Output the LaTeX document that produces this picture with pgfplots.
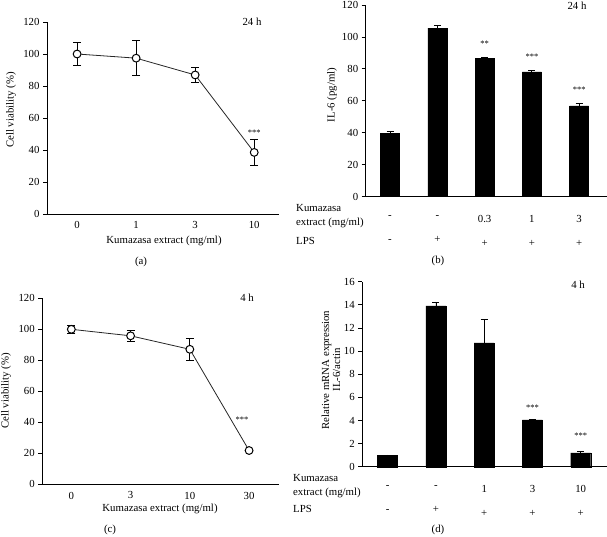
\documentclass[border=0pt]{standalone}
\usepackage{fontspec}
\setmainfont{Liberation Serif}
\usepackage{pgfplots}
\pgfplotsset{compat=1.18}

\pgfplotsset{
  panel/.style={
    scale only axis,
    axis x line*=bottom, axis y line*=left,
    axis line style={line width=0.8pt, black},
    tick align=outside,
    major tick length=4pt,
    ytick style={line width=0.8pt, black},
    xtick style={draw=none},
    /pgf/number format/assume math mode=true,
    ticklabel style={font=\fontsize{10.8}{13}\selectfont},
    clip=false,
  },
  linepanel/.style={
    panel,
    xtick={0,1,2,3},
    ymin=0, ymax=120, ytick={0,20,...,120},
    xticklabel style={yshift=0pt},
  },
  barpanel/.style={
    panel,
    xtick={0,1,2,3,4},
    xticklabel style={yshift=-11pt, align=center},
    ybar, bar width=19pt,
  },
  curve/.style={
    line width=0.8pt, color=black!85,
    mark=*, mark size=3.9pt,
    mark options={fill=white, draw=black, line width=1pt},
    error bars/.cd, y dir=both, y explicit,
    error bar style={line width=0.8pt, black},
    error mark options={rotate=90, line width=0.8pt, black, mark size=4pt},
  },
  bars/.style={
    fill=black, draw=black,
    error bars/.cd, y dir=plus, y explicit,
    error bar style={line width=0.8pt, black},
    error mark options={rotate=90, line width=0.8pt, black, mark size=3.5pt},
  },
}
\newcommand{\stars}{\fontsize{8.5}{9}\selectfont}

\begin{document}
\begin{tikzpicture}[font=\fontsize{10.8}{13}\selectfont]
\useasboundingbox (0,0) rectangle (607pt,536pt);

% ---------------- (a) ----------------
\begin{axis}[linepanel,
  at={(47pt,322pt)}, anchor=south west,
  width=232pt, height=192pt,
  xmin=-0.51, xmax=3.42,
  xticklabels={0,1,3,10},
]
\addplot[curve] coordinates {
  (0,100.0) +- (0,7.2)
  (1,97.4)  +- (0,11.0)
  (2,86.9)  +- (0,4.6)
  (3,38.5)  +- (0,8.0)
};
\node[font=\stars] at (axis cs:3,50.5) {***};
\end{axis}
\node at (252pt,514pt) {24 h};
\node at (164pt,295pt) {Kumazasa extract (mg/ml)};
\node[rotate=90] at (11pt,426pt) {Cell viability (\%)};
\node at (141pt,274pt) {(a)};

% ---------------- (b) ----------------
\begin{axis}[barpanel,
  at={(365.7pt,339.3pt)}, anchor=south west,
  width=241.2pt, height=191.7pt,
  xmin=-0.514, xmax=4.586,
  ymin=0, ymax=120, ytick={0,20,...,120},
  xticklabels={{-\\[11pt]-},{-\\[11pt]+},{0.3\\[11pt]+},{1\\[11pt]+},{3\\[11pt]+}},
]
\addplot[bars] coordinates {
  (0,39.6)  +- (0,1.0)
  (1,105.6) +- (0,1.6)
  (2,86.5)  +- (0,0.8)
  (3,78.1)  +- (0,1.2)
  (4,56.8)  +- (0,1.3)
};
\node[font=\stars] at (axis cs:2,96) {**};
\node[font=\stars] at (axis cs:3,87.5) {***};
\node[font=\stars] at (axis cs:4,66.7) {***};
\end{axis}
\node at (577pt,530pt) {24 h};
\node[rotate=90] at (332pt,441pt) {IL-6 (pg/ml)};
\node[anchor=west, align=left, inner xsep=0pt, font=\fontsize{10.8}{13.5}\selectfont] at (296pt,320pt) {Kumazasa\\extract (mg/ml)};
\node[anchor=west, inner xsep=0pt] at (296pt,295pt) {LPS};
\node at (438pt,275pt) {(b)};

% ---------------- (c) ----------------
\begin{axis}[linepanel,
  at={(42.3pt,51.7pt)}, anchor=south west,
  width=236.4pt, height=186pt,
  xmin=-0.49, xmax=3.5,
  xticklabels={0,3,10,30},
]
\addplot[curve] coordinates {
  (0,100.0) +- (0,2.6)
  (1,95.8)  +- (0,3.3)
  (2,87.1)  +- (0,7.2)
  (3,21.8)  +- (0,0.8)
};
\node[font=\stars] at (axis cs:2.88,41.5) {***};
\end{axis}
\node at (247pt,238pt) {4 h};
\node at (160pt,27pt) {Kumazasa extract (mg/ml)};
\node[rotate=90] at (6pt,145pt) {Cell viability (\%)};
\node at (110pt,6pt) {(c)};

% ---------------- (d) ----------------
\begin{axis}[barpanel,
  at={(362.3pt,69.3pt)}, anchor=south west,
  width=244.7pt, height=185pt,
  xmin=-0.526, xmax=4.545,
  ymin=0, ymax=16, ytick={0,2,...,16},
  bar width=20pt,
  xticklabels={{-\\[11pt]-},{-\\[11pt]+},{1\\[11pt]+},{3\\[11pt]+},{10\\[11pt]+}},
]
\addplot[bars] coordinates {
  (0,1.0)  +- (0,0.02)
  (1,13.9) +- (0,0.35)
  (2,10.7) +- (0,2.05)
  (3,4.04) +- (0,0.08)
  (4,1.2)  +- (0,0.1)
};
\node[font=\stars] at (axis cs:3,5.14) {***};
\node[font=\stars] at (axis cs:4,2.66) {***};
\end{axis}
\node at (578pt,251pt) {4 h};
\node[rotate=90, align=center, font=\fontsize{10.8}{11}\selectfont] at (331pt,166pt) {Relative mRNA expression\\IL-6/actin};
\node[anchor=west, align=left, inner xsep=0pt, font=\fontsize{10.8}{14.5}\selectfont] at (293pt,50pt) {Kumazasa\\extract (mg/ml)};
\node[anchor=west, inner xsep=0pt] at (293pt,27pt) {LPS};
\node at (438pt,6pt) {(d)};
\end{tikzpicture}
\end{document}
